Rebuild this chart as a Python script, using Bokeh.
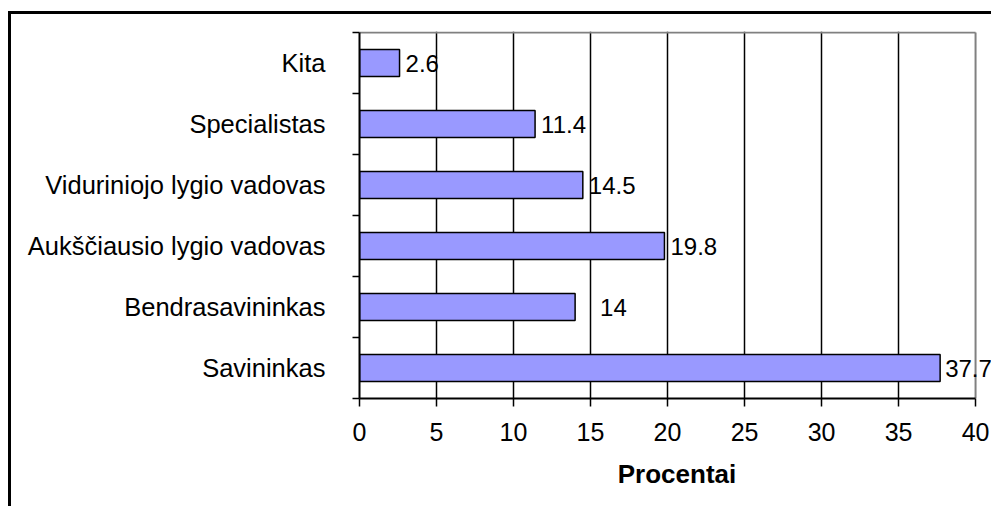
from bokeh.plotting import figure
from bokeh.models import Range1d, FixedTicker, LabelSet, ColumnDataSource
from bokeh.core.properties import value
from bokeh.embed import file_html
from bokeh.resources import INLINE

# ---- data (bottom to top) ----
categories = ["Savininkas", "Bendrasavininkas", "Aukščiausio lygio vadovas",
              "Viduriniojo lygio vadovas", "Specialistas", "Kita"]
values = [37.7, 14, 19.8, 14.5, 11.4, 2.6]
value_labels = ["37.7", "14", "19.8", "14.5", "11.4", "2.6"]
label_offsets = [5, 25, 6, 6, 6, 6]
x_ticks = [0, 5, 10, 15, 20, 25, 30, 35, 40]
x_title = "Procentai"

FONT = "Liberation Sans"

positions = [i + 0.5 for i in range(len(categories))]
boundaries = list(range(len(categories) + 1))
x_lo, x_hi = x_ticks[0], x_ticks[-1]
y_lo, y_hi = boundaries[0], boundaries[-1]

src = ColumnDataSource(dict(y=positions, v=values, lab=value_labels, off=label_offsets))

# range padding lets the value labels run past the plot border (as in the original)
p = figure(width=983, height=495,
           x_range=Range1d(x_lo, x_hi + 1.23),
           y_range=Range1d(y_lo, y_hi + 0.0164),
           output_backend="svg", toolbar_location=None,
           min_border_left=348, min_border_top=17,
           min_border_right=0, min_border_bottom=111)
p.margin = (11, 0, 0, 8)
p.styles = {"border-left": "3px solid black", "border-top": "3px solid black"}

p.background_fill_color = "white"
p.border_fill_color = "white"
p.outline_line_color = None

# grid
p.ygrid.visible = False
p.xgrid.ticker = FixedTicker(ticks=x_ticks[1:-1])
p.xgrid.grid_line_color = "black"
p.xgrid.grid_line_width = 1.5

# plot-area border (top and right), gray
p.segment(x0=[x_lo, x_hi], y0=[y_hi, y_lo], x1=[x_hi, x_hi], y1=[y_hi, y_hi],
          line_color="#808080", line_width=2)

p.hbar(y="y", right="v", left=0, height=0.44, source=src,
       fill_color="#9999FF", line_color="black", line_width=1.5)

labels = LabelSet(x="v", y="y", text="lab", x_offset="off", source=src,
                  text_align="left", text_baseline="middle",
                  text_font=value(FONT), text_font_size=value("24px"),
                  text_color="black")
p.add_layout(labels)

# x axis
xa = p.xaxis[0]
xa.bounds = (x_lo, x_hi)
xa.ticker = FixedTicker(ticks=x_ticks)
xa.axis_line_color = "black"
xa.axis_line_width = 2
xa.major_tick_line_color = "black"
xa.major_tick_line_width = 1.5
xa.major_tick_out = 8
xa.major_tick_in = 0
xa.minor_tick_line_color = None
xa.major_label_text_font = FONT
xa.major_label_text_font_size = "25px"
xa.major_label_text_color = "black"
xa.major_label_standoff = 16
xa.axis_label = x_title
xa.axis_label_text_font = FONT
xa.axis_label_text_font_size = "26px"
xa.axis_label_text_font_style = "bold"
xa.axis_label_text_color = "black"
xa.axis_label_standoff = 15

# y axis
ya = p.yaxis[0]
ya.bounds = (y_lo, y_hi)
ya.ticker = FixedTicker(ticks=positions, minor_ticks=boundaries)
ya.major_label_overrides = {pos: name for pos, name in zip(positions, categories)}
ya.axis_line_color = "black"
ya.axis_line_width = 2
ya.major_tick_line_color = None
ya.major_tick_out = 0
ya.major_tick_in = 0
ya.minor_tick_line_color = "black"
ya.minor_tick_line_width = 1.5
ya.minor_tick_out = 7
ya.minor_tick_in = 0
ya.major_label_text_font = FONT
ya.major_label_text_font_size = "25.5px"
ya.major_label_text_color = "black"
ya.major_label_standoff = 27

open("out.html", "w").write(file_html(p, INLINE))
